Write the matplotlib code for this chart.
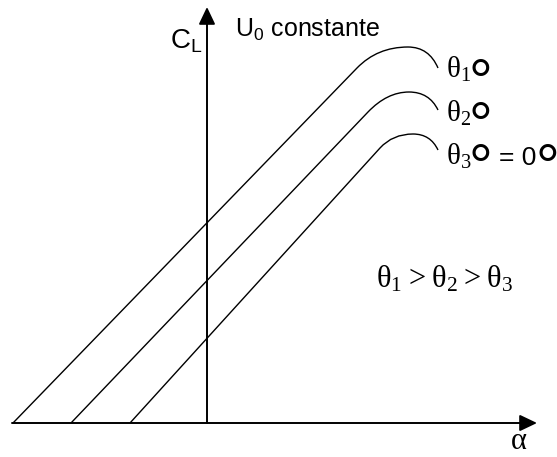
import matplotlib
matplotlib.use("Agg")
import matplotlib.pyplot as plt
from matplotlib.path import Path
from matplotlib.patches import PathPatch

# Lift curves C_L(alpha) for three flap angles (theta_1 > theta_2 > theta_3)
alpha_zero = [-19.4, -13.6, -7.7]      # zero-lift angle
alpha_knee = [15.0, 16.1, 17.3]        # end of the linear range
cl_knee = [3.55, 3.11, 2.75]
alpha_peak = [20.1, 20.2, 20.6]        # stall (maximum lift)
cl_peak = [3.76, 3.31, 2.89]
alpha_end = [23.1, 23.1, 23.1]         # end of the drawn post-stall branch
cl_end = [3.55, 3.13, 2.73]

curve_names = ["θ_1", "θ_2", "θ_3"]
label_alpha = 23.95
label_cl = [3.45, 3.01, 2.58]          # baseline of each curve label
ring_cl = [3.65, 3.22, 2.80]           # top of each degree sign

x_axis_range = [-19.5, 33.0]
y_axis_top = 4.16

SANS = "Liberation Sans"
SERIF = "Liberation Serif"

fig = plt.figure(figsize=(5.57, 4.57), dpi=100)
ax = fig.add_axes([0, 0, 1, 1])
ax.set_xlim(-20.7, 35.0)
ax.set_ylim(-0.34, 4.23)
ax.axis("off")

# Axes with arrow heads
arrow = dict(arrowstyle="-|>,head_length=1.05,head_width=0.5",
             lw=1.4, color="black", shrinkA=0, shrinkB=0)
ax.annotate("", xy=(x_axis_range[1], 0), xytext=(x_axis_range[0], 0),
            arrowprops=arrow)
ax.annotate("", xy=(0, y_axis_top), xytext=(0, 0), arrowprops=arrow)

# Curves: straight linear range, then a smooth rounded stall top
for i in range(3):
    slope = cl_knee[i] / (alpha_knee[i] - alpha_zero[i])
    c1 = alpha_knee[i] + (cl_peak[i] - cl_knee[i]) / slope
    c2 = alpha_peak[i] + 0.7 * (alpha_end[i] - alpha_peak[i])
    verts = [(alpha_zero[i], 0.0), (alpha_knee[i], cl_knee[i]),
             (c1, cl_peak[i]), (alpha_peak[i], cl_peak[i]),
             (c2, cl_peak[i]), (alpha_end[i], cl_end[i])]
    codes = [Path.MOVETO, Path.LINETO, Path.CURVE3, Path.CURVE3,
             Path.CURVE3, Path.CURVE3]
    ax.add_patch(PathPatch(Path(verts, codes), fill=False, lw=1.0,
                           edgecolor="black", capstyle="butt"))

# Curve labels
ring_style = dict(family=SANS, fontsize=43, va="top", ha="left",
                  textcoords="offset points")
for i in range(3):
    t = ax.text(label_alpha, label_cl[i], r"$\mathregular{%s}$" % curve_names[i],
                family=SERIF, fontsize=21, va="baseline", ha="left")
    ring = ax.annotate("°", xy=(1.0, ring_cl[i]), xycoords=(t, "data"),
                       xytext=(-2.5, 0), **ring_style)
    if i == 2:
        eq = ax.annotate("= 0", xy=(1.0, label_cl[i]), xycoords=(ring, "data"),
                         xytext=(4.5, 0), textcoords="offset points",
                         family=SANS, fontsize=19, va="baseline", ha="left")
        ax.annotate("°", xy=(1.0, ring_cl[i]), xycoords=(eq, "data"),
                    xytext=(-0.5, 0), **ring_style)

ax.text(-0.4, 3.82, r"$\mathregular{C_L}$", family=SANS, fontsize=20,
        ha="right", va="center")
ax.text(2.8, 3.86, r"$\mathregular{U_0}$ constante", family=SANS, fontsize=18,
        ha="left", va="baseline")
ax.text(16.9, 1.36, r"$\mathregular{θ_1 > θ_2 > θ_3}$", family=SERIF,
        fontsize=22, ha="left", va="baseline")
ax.text(31.2, -0.33, "α", family=SERIF, fontsize=22, ha="center",
        va="bottom")

fig.savefig("out.png", dpi=100)
